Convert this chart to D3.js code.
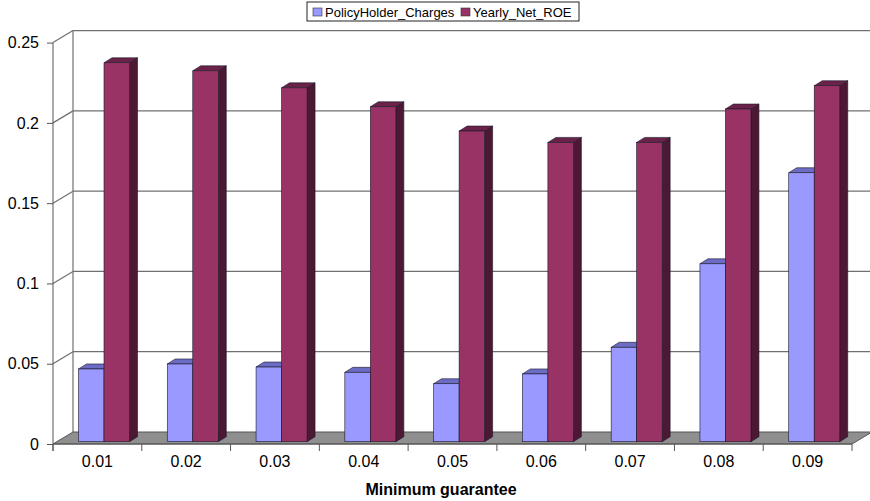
<!DOCTYPE html>
<meta charset="utf-8">
<script src="https://d3js.org/d3.v7.min.js"></script>
<style>
  body { margin: 0; background: #fff; }
  text { font-family: "Liberation Sans", Arial, Helvetica, sans-serif; fill: #000; }
</style>
<body>
<div id="chart"></div>
<script>
// data
var categories = ["0.01", "0.02", "0.03", "0.04", "0.05", "0.06", "0.07", "0.08", "0.09"];
var series = ["PolicyHolder_Charges", "Yearly_Net_ROE"];
var policyCharges = [0.0453, 0.0484, 0.0465, 0.0432, 0.0361, 0.0422, 0.0588, 0.1108, 0.1675];
var yearlyNetROE = [0.2360, 0.2310, 0.2204, 0.2086, 0.1935, 0.1864, 0.1864, 0.2072, 0.2217];
var yTicks = [0, 0.05, 0.1, 0.15, 0.2, 0.25];

var width = 870, height = 501;
var depthX = 20, depthY = -12;     // wall depth
var barDX = 8, barDY = -5;         // bar depth

var svg = d3.select("#chart").append("svg")
    .attr("width", width)
    .attr("height", height);

var x = d3.scaleBand().domain(categories).range([53, 852]).paddingInner(0).paddingOuter(0);
var x1 = d3.scaleBand().domain(series).range([25.5, 76.5]);
var y = d3.scaleLinear().domain([0, 0.25]).range([444, 42.6]);
// bars stand a little behind the front plane
var yBar = d3.scaleLinear().domain([0, 0.25]).range([441.7, 441.7 - (444 - 42.6)]);

var colors = {
  "PolicyHolder_Charges": {front: "#9999ff", top: "#6c6cc4", side: "#4d4d99"},
  "Yearly_Net_ROE": {front: "#993366", top: "#6b2248", side: "#4c1834"}
};

// back wall gridlines
var grid = svg.append("g");
grid.selectAll(".hline")
  .data(yTicks.filter(function(d) { return d > 0; }))
  .enter().append("line")
    .attr("x1", 53 + depthX).attr("x2", width)
    .attr("y1", function(d) { return y(d) + depthY; })
    .attr("y2", function(d) { return y(d) + depthY; })
    .attr("stroke", "#707070").attr("stroke-width", 1.2);
// left wall diagonals
grid.selectAll(".dline")
  .data(yTicks.filter(function(d) { return d > 0; }))
  .enter().append("line")
    .attr("x1", 53).attr("x2", 53 + depthX)
    .attr("y1", function(d) { return y(d); })
    .attr("y2", function(d) { return y(d) + depthY; })
    .attr("stroke", "#707070").attr("stroke-width", 1.2);
grid.append("line")
  .attr("x1", 53 + depthX).attr("x2", 53 + depthX)
  .attr("y1", y(0.25) + depthY).attr("y2", y(0) + depthY)
  .attr("stroke", "#707070").attr("stroke-width", 1.2);

// floor
svg.append("path")
  .attr("d", "M53," + y(0) + "L852," + y(0) + "L" + (852 + depthX) + "," + (y(0) + depthY) +
    "L" + (53 + depthX) + "," + (y(0) + depthY) + "Z")
  .attr("fill", "#8f8f8f").attr("stroke", "#555").attr("stroke-width", 1);

// bars
var rows = categories.map(function(c, i) {
  return {cat: c, values: [
    {key: series[0], value: policyCharges[i]},
    {key: series[1], value: yearlyNetROE[i]}
  ]};
});

var groups = svg.selectAll(".cat")
  .data(rows)
  .enter().append("g")
    .attr("class", "cat");

var bars = groups.selectAll(".bar")
  .data(function(d) { return d.values.map(function(v) { return {cat: d.cat, key: v.key, value: v.value}; }); })
  .enter().append("g")
    .attr("class", "bar");

function barX(d) { return x(d.cat) + x1(d.key); }

bars.append("path")   // side
  .attr("d", function(d) {
    var x0 = barX(d) + x1.bandwidth(), yt = yBar(d.value), yb = yBar(0);
    return "M" + x0 + "," + yb + "L" + (x0 + barDX) + "," + (yb + barDY) +
      "L" + (x0 + barDX) + "," + (yt + barDY) + "L" + x0 + "," + yt + "Z";
  })
  .attr("fill", function(d) { return colors[d.key].side; })
  .attr("stroke", "#1a1a2a").attr("stroke-width", 0.6);

bars.append("path")   // top
  .attr("d", function(d) {
    var x0 = barX(d), w = x1.bandwidth(), yt = yBar(d.value);
    return "M" + x0 + "," + yt + "L" + (x0 + w) + "," + yt +
      "L" + (x0 + w + barDX) + "," + (yt + barDY) + "L" + (x0 + barDX) + "," + (yt + barDY) + "Z";
  })
  .attr("fill", function(d) { return colors[d.key].top; })
  .attr("stroke", "#1a1a2a").attr("stroke-width", 0.6);

bars.append("rect")   // front
  .attr("x", barX)
  .attr("y", function(d) { return yBar(d.value); })
  .attr("width", x1.bandwidth())
  .attr("height", function(d) { return yBar(0) - yBar(d.value); })
  .attr("fill", function(d) { return colors[d.key].front; })
  .attr("stroke", "#1a1a2a").attr("stroke-width", 0.6);

// y axis
var yAxis = svg.append("g")
  .attr("transform", "translate(53,0)")
  .call(d3.axisLeft(y).tickValues(yTicks).tickFormat(d3.format("~g")).tickSize(6).tickPadding(8));
yAxis.select(".domain").attr("stroke", "#555").attr("d", "M0," + y(0.25) + "V" + (y(0) + 7));
yAxis.selectAll(".tick line").attr("stroke", "#555");
yAxis.selectAll(".tick text").attr("font-size", 16).attr("font-family", "Liberation Sans, Arial, sans-serif");

// x axis
var xAxis = svg.append("g");
xAxis.append("line")
  .attr("x1", 53).attr("x2", 852).attr("y1", y(0)).attr("y2", y(0))
  .attr("stroke", "#555");
xAxis.selectAll(".xtick")
  .data(categories.concat(["end"]))
  .enter().append("line")
    .attr("x1", function(d, i) { return i < categories.length ? x(d) : x.range()[1]; })
    .attr("x2", function(d, i) { return i < categories.length ? x(d) : x.range()[1]; })
    .attr("y1", y(0)).attr("y2", y(0) + 7)
    .attr("stroke", "#555");
xAxis.selectAll(".xlab")
  .data(categories)
  .enter().append("text")
    .attr("x", function(d) { return x(d) + x.bandwidth() / 2; })
    .attr("y", 467)
    .attr("text-anchor", "middle")
    .attr("font-size", 16)
    .text(function(d) { return d; });

svg.append("text")
  .attr("x", 441)
  .attr("y", 495)
  .attr("text-anchor", "middle")
  .attr("font-size", 16)
  .attr("font-weight", "bold")
  .text("Minimum guarantee");

// legend
var legend = svg.append("g");
legend.append("rect")
  .attr("x", 307).attr("y", 2).attr("width", 272).attr("height", 19)
  .attr("fill", "#fff").attr("stroke", "#222").attr("stroke-width", 1);
var legendX = [313, 461];
var items = legend.selectAll(".item")
  .data(series)
  .enter().append("g")
    .attr("transform", function(d, i) { return "translate(" + legendX[i] + ",0)"; });
items.append("rect")
  .attr("x", 0).attr("y", 8).attr("width", 9).attr("height", 8)
  .attr("fill", function(d) { return colors[d].front; })
  .attr("stroke", "#333").attr("stroke-width", 0.6);
items.append("text")
  .attr("x", 12).attr("y", 17)
  .attr("font-size", 13)
  .text(function(d) { return d; });
</script>
</body>
